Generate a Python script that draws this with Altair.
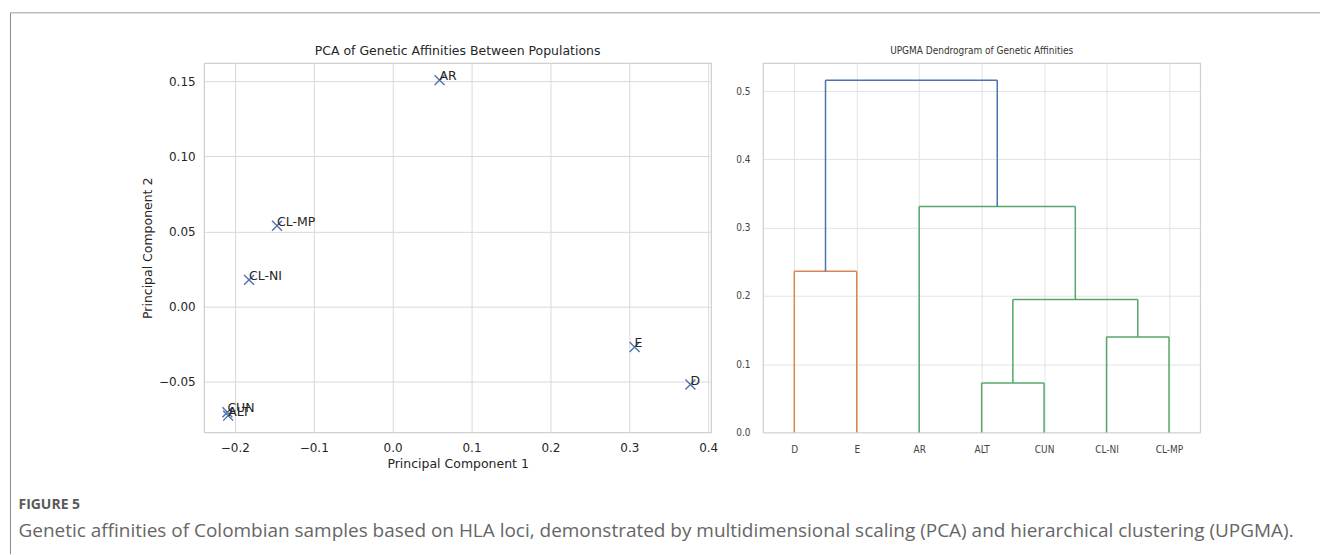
import altair as alt
import pandas as pd

# ---------------- data ----------------
pca_labels = ["AR", "CL-MP", "CL-NI", "E", "D", "CUN", "ALT"]
pc1 = [0.0595, -0.1466, -0.182, 0.3067, 0.3775, -0.2095, -0.2085]
pc2 = [0.1507, 0.0538, 0.0177, -0.027, -0.052, -0.0704, -0.0727]

leaf_names = ["D", "E", "AR", "ALT", "CUN", "CL-NI", "CL-MP"]
leaf_pos = [5, 15, 25, 35, 45, 55, 65]

# dendrogram links (U shapes): x coords and heights of the 4 corner points
link_x = [[5, 5, 15, 15], [35, 35, 45, 45], [55, 55, 65, 65],
          [40, 40, 60, 60], [25, 25, 50, 50], [10, 10, 37.5, 37.5]]
link_h = [[0, 0.236, 0.236, 0], [0, 0.0725, 0.0725, 0], [0, 0.140, 0.140, 0],
          [0.0725, 0.1946, 0.1946, 0.140], [0, 0.331, 0.331, 0.1946],
          [0.236, 0.516, 0.516, 0.331]]
link_color = ["#DD8452", "#55A868", "#55A868", "#55A868", "#55A868", "#4C72B0"]

pc1_ticks = [-0.2, -0.1, 0.0, 0.1, 0.2, 0.3, 0.4]
pc2_ticks = [-0.05, 0.0, 0.05, 0.10, 0.15]
height_ticks = [0.0, 0.1, 0.2, 0.3, 0.4, 0.5]

title_left = "PCA of Genetic Affinities Between Populations"
title_right = "UPGMA Dendrogram of Genetic Affinities"
fig_label = "FIGURE 5"
caption = ("Genetic affinities of Colombian samples based on HLA loci, demonstrated by "
           "multidimensional scaling (PCA) and hierarchical clustering (UPGMA).")

# ---------------- tables ----------------
pca_df = pd.DataFrame({"label": pca_labels, "pc1": pc1, "pc2": pc2})

rows = []
for xs_, hs_, col in zip(link_x, link_h, link_color):
    for i in range(3):
        rows.append({"x": xs_[i], "x2": xs_[i + 1], "y": hs_[i], "y2": hs_[i + 1], "color": col})
seg_df = pd.DataFrame(rows)

one = pd.DataFrame({"a": [0]})

LEFT_FONT = "DejaVu Sans"
RIGHT_FONT = "DejaVu Sans Condensed, Liberation Sans Narrow, sans-serif"
CAP_FONT = "Open Sans"
X_PATH = "M-1,-1L1,1M-1,1L1,-1"

# ---------------- left panel ----------------
xs = alt.Scale(domain=[-0.239, 0.4038], nice=False, zero=False)
ys = alt.Scale(domain=[-0.0839, 0.162], nice=False, zero=False)

x_axis = alt.Axis(values=pc1_ticks, format=".1f", title="Principal Component 1",
                  grid=True, gridColor="#d9d9d9", gridWidth=1, domain=False, ticks=False,
                  labelFont=LEFT_FONT, labelFontSize=12, labelColor="#262626", labelPadding=10,
                  titleFont=LEFT_FONT, titleFontSize=12.5, titleFontWeight="normal",
                  titleColor="#262626", titlePadding=4)
y_axis = alt.Axis(values=pc2_ticks, format=".2f", title="Principal Component 2",
                  grid=True, gridColor="#d9d9d9", gridWidth=1, domain=False, ticks=False,
                  labelFont=LEFT_FONT, labelFontSize=12, labelColor="#262626", labelPadding=9,
                  titleFont=LEFT_FONT, titleFontSize=12.5, titleFontWeight="normal",
                  titleColor="#262626", titlePadding=4)

base = alt.Chart(pca_df)
pts = base.mark_point(shape=X_PATH, filled=False, size=100, strokeWidth=1.4,
                      color="#4C72B0", opacity=1).encode(
    x=alt.X("pc1:Q", scale=xs, axis=x_axis),
    y=alt.Y("pc2:Q", scale=ys, axis=y_axis),
)
lbls = base.mark_text(align="left", baseline="alphabetic", font=LEFT_FONT, fontSize=12.5,
                      color="#262626").encode(x="pc1:Q", y="pc2:Q", text="label:N")

title_l = alt.Chart(one).mark_text(align="center", baseline="middle", font=LEFT_FONT,
                                   fontSize=12.5, color="#262626").encode(
    x=alt.value(254), y=alt.value(-12), text=alt.value(title_left))

top_border = alt.Chart(one).mark_rule(color="#bdbdbd", strokeWidth=1.5).encode(
    x=alt.value(-194), x2=alt.value(1118), y=alt.value(-50.5))
left_border = alt.Chart(one).mark_rule(color="#8c8c8c", strokeWidth=1).encode(
    x=alt.value(-194), y=alt.value(-50.5), y2=alt.value(492))
fig_text = alt.Chart(one).mark_text(align="left", baseline="middle", font=CAP_FONT,
                                    fontSize=14, fontWeight="bold", color="#5a5a5a").encode(
    x=alt.value(-186), y=alt.value(443), text=alt.value(fig_label))
cap_text = alt.Chart(one).mark_text(align="left", baseline="middle", font=CAP_FONT,
                                    fontSize=19, color="#666666").encode(
    x=alt.value(-186), y=alt.value(469), text=alt.value(caption))

left = alt.layer(pts, lbls, title_l, top_border, left_border, fig_text, cap_text).properties(
    width=508, height=370)

# ---------------- right panel ----------------
label_expr = "[" + ",".join("'%s'" % n for n in leaf_names) + "][round((datum.value-5)/10)]"
rx_axis = alt.Axis(values=leaf_pos, labelExpr=label_expr, title=None,
                   grid=True, gridColor="#e3e3e3", domain=False, ticks=False,
                   labelFont=RIGHT_FONT, labelFontSize=10, labelColor="#444444", labelPadding=12)
ry_axis = alt.Axis(values=height_ticks, format=".1f", title=None,
                   grid=True, gridColor="#e3e3e3", domain=False, ticks=False,
                   labelFont=RIGHT_FONT, labelFontSize=10, labelColor="#444444", labelPadding=13)

dend = alt.Chart(seg_df).mark_rule(strokeWidth=1.5).encode(
    x=alt.X("x:Q", scale=alt.Scale(domain=[0, 70], nice=False, zero=False), axis=rx_axis),
    x2="x2:Q",
    y=alt.Y("y:Q", scale=alt.Scale(domain=[0, 0.541], nice=False, zero=False), axis=ry_axis),
    y2="y2:Q",
    color=alt.Color("color:N", scale=None),
)
right_title = alt.Chart(one).mark_text(align="center", baseline="middle", font=RIGHT_FONT,
                                       fontSize=10, color="#333333").encode(
    x=alt.value(219), y=alt.value(-12), text=alt.value(title_right))
right = alt.layer(dend, right_title).properties(width=438, height=370)

chart = alt.hconcat(left, right, spacing=52, bounds="flush").properties(
    padding={"left": 8.5, "top": 10.75, "right": 0, "bottom": 0}
).configure_view(stroke="#d0d0d0", strokeWidth=1.25)

chart.save("out.html", embed_options={"renderer": "svg", "actions": False})
